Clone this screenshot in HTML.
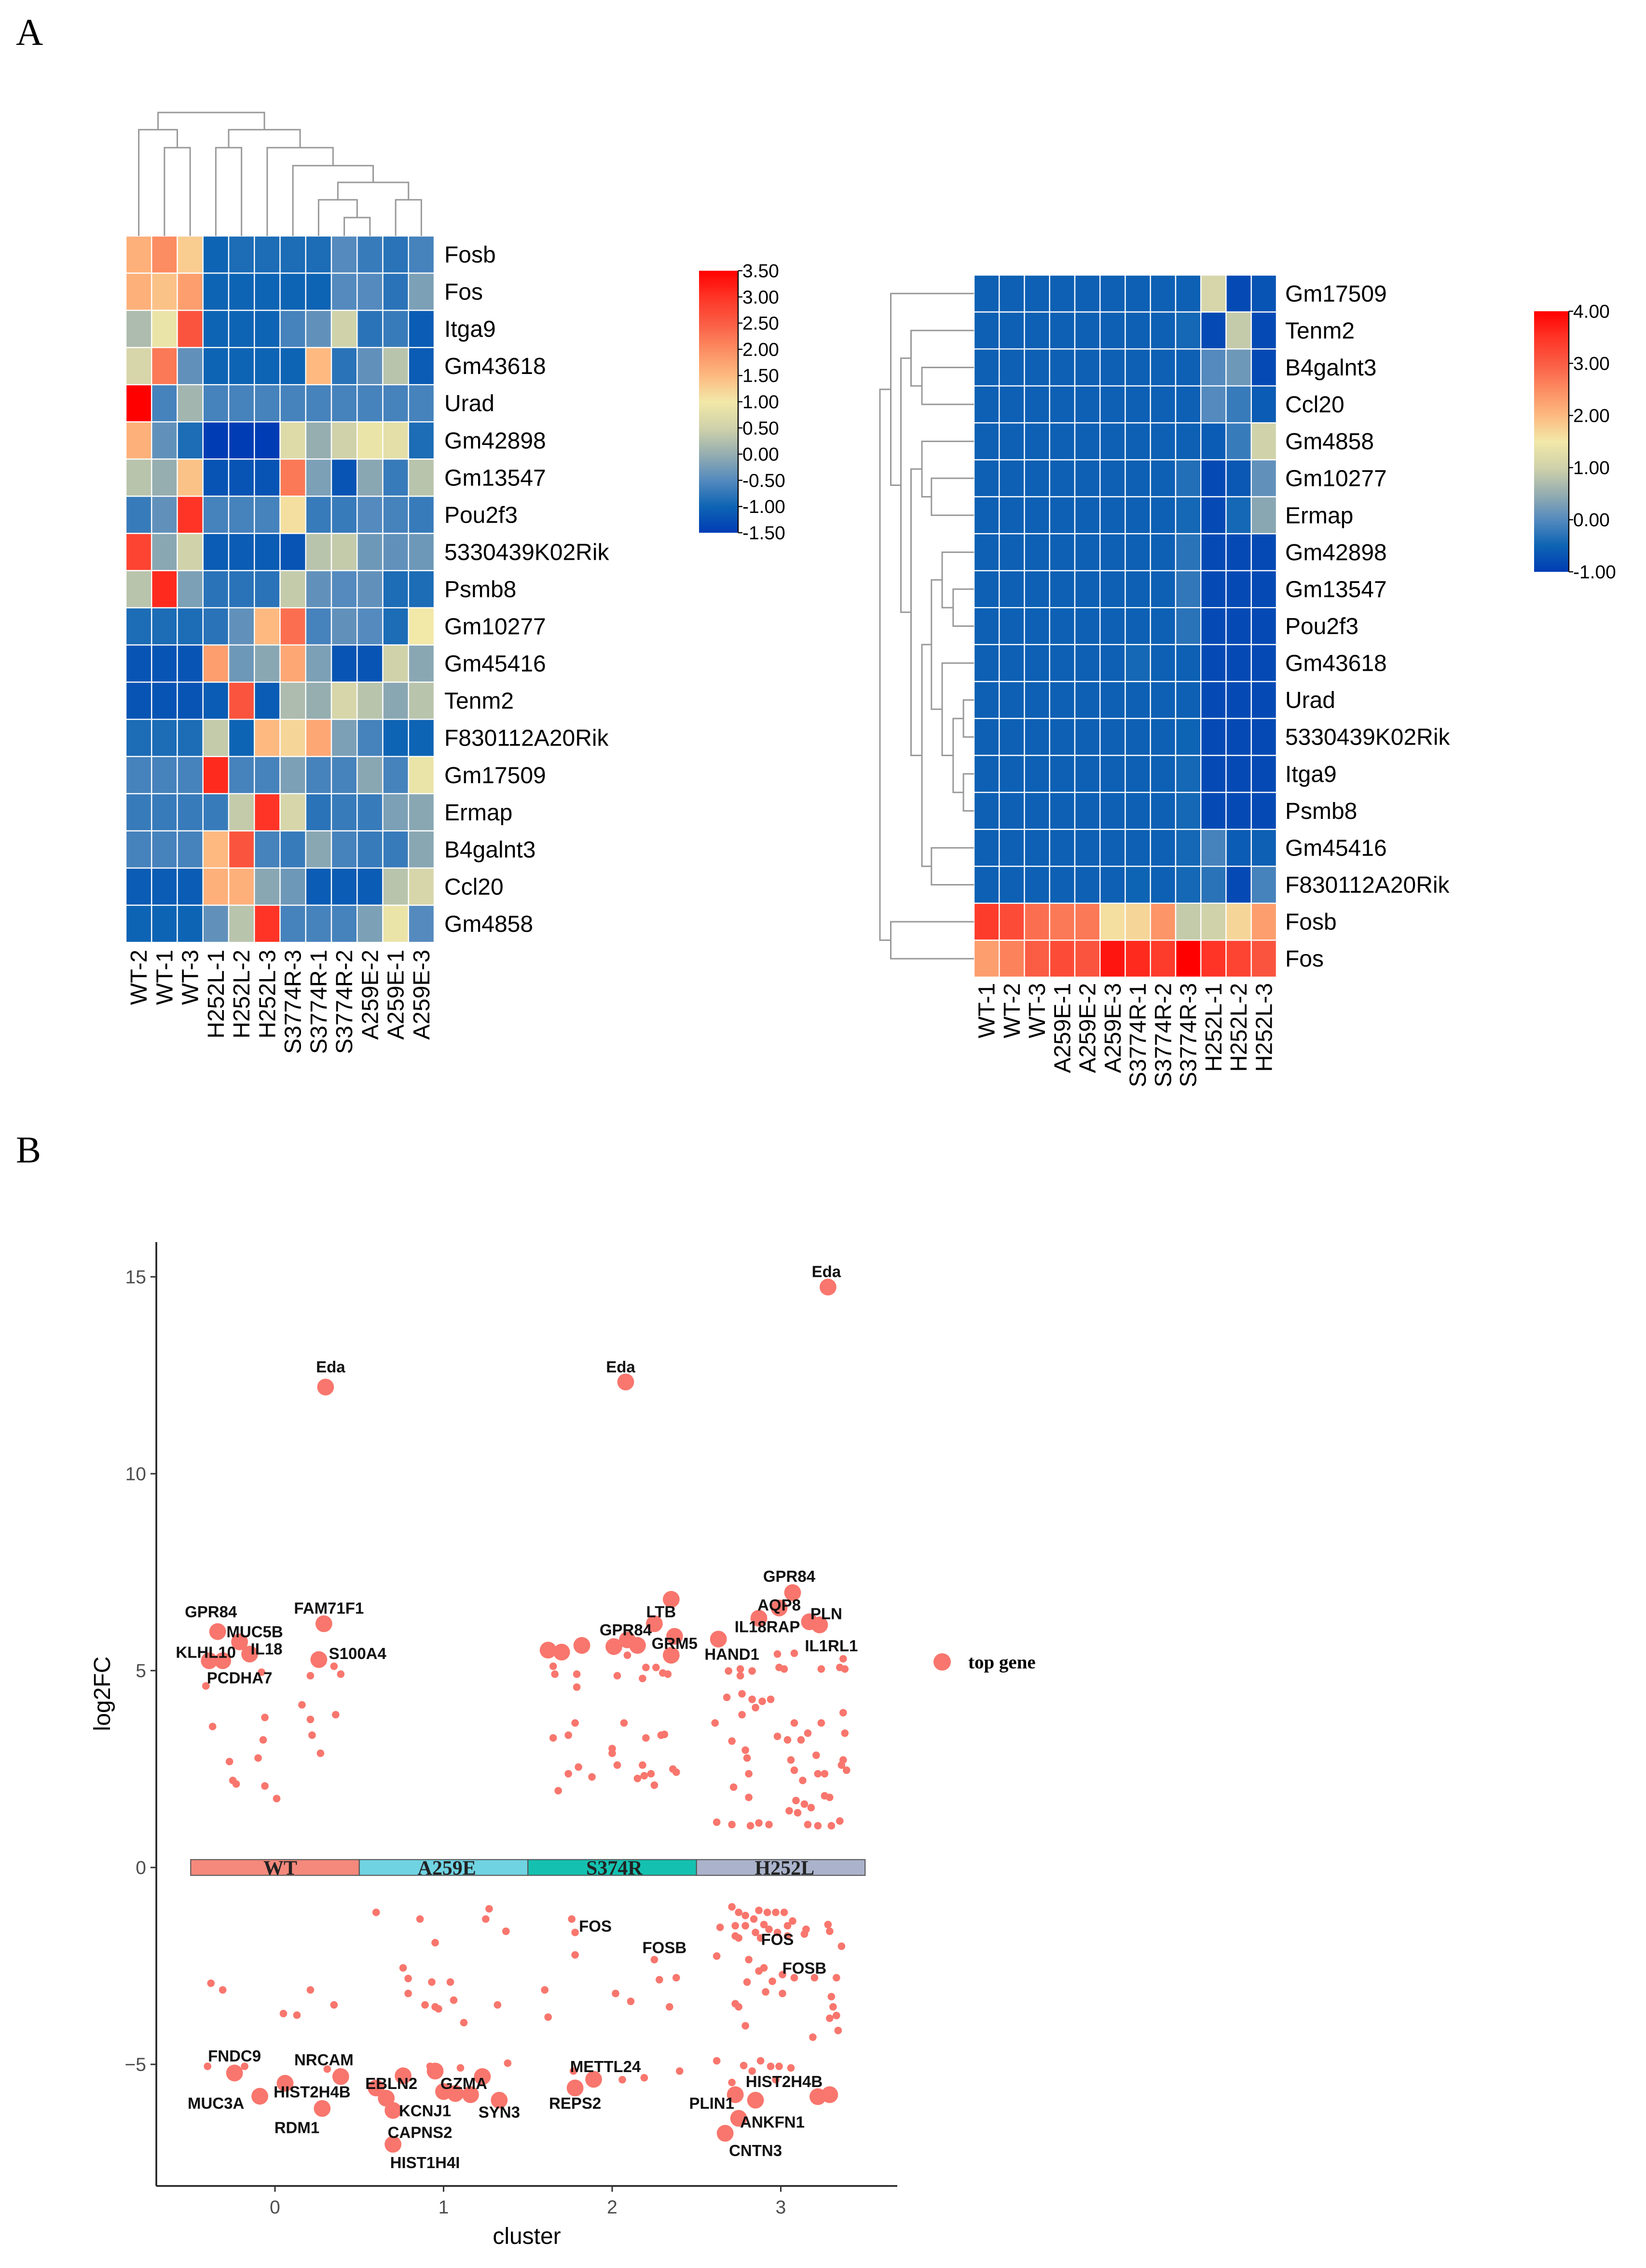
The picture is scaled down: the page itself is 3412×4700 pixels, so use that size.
<!DOCTYPE html>
<html><head><meta charset="utf-8">
<style>
html,body{margin:0;padding:0;background:#fff;}
svg{display:block;}
text{font-family:"Liberation Sans",sans-serif;}
</style></head>
<body>
<svg id="root" xmlns="http://www.w3.org/2000/svg" width="3412" height="4700" viewBox="0 0 1137.33 1566.67">
<rect width="1137.33" height="1566.67" fill="#fff"/>
<text x="11" y="31" font-size="26" style="font-family:'Liberation Serif',serif">A</text>
<text x="11" y="803" font-size="26" style="font-family:'Liberation Serif',serif">B</text>
<g id="hm1"></g>
<g id="hm2"></g>
<g id="sc"></g>
</svg>
<script>
// ---------- Left heatmap data ----------
const lGenes=["Fosb","Fos","Itga9","Gm43618","Urad","Gm42898","Gm13547","Pou2f3","5330439K02Rik","Psmb8","Gm10277","Gm45416","Tenm2","F830112A20Rik","Gm17509","Ermap","B4galnt3","Ccl20","Gm4858"];
const lSamples=["WT-2","WT-1","WT-3","H252L-1","H252L-2","H252L-3","S3774R-3","S3774R-1","S3774R-2","A259E-2","A259E-1","A259E-3"];
const lValues=[
[1.6,2.0,1.3,-1.0,-0.9,-0.9,-0.9,-0.9,-0.5,-0.7,-0.8,-0.6],
[1.6,1.4,1.8,-1.0,-1.0,-1.0,-1.0,-1.0,-0.5,-0.5,-0.8,-0.2],
[0.2,0.9,2.6,-1.0,-1.0,-1.0,-0.6,-0.4,0.5,-0.8,-0.7,-1.1],
[0.6,2.2,-0.4,-1.0,-1.0,-1.0,-1.0,1.5,-0.8,-0.4,0.3,-1.1],
[3.5,-0.6,0.1,-0.6,-0.6,-0.6,-0.6,-0.6,-0.6,-0.6,-0.6,-0.6],
[1.6,-0.4,-0.9,-1.5,-1.5,-1.5,0.7,0.0,0.5,0.9,0.8,-0.9],
[0.3,0.0,1.4,-1.2,-1.2,-1.2,2.2,-0.2,-1.2,-0.1,-0.7,0.3],
[-0.7,-0.4,3.0,-0.6,-0.6,-0.6,1.1,-0.7,-0.7,-0.5,-0.6,-0.7],
[2.8,-0.1,0.5,-1.1,-1.1,-1.1,-1.2,0.3,0.4,-0.3,-0.4,-0.3],
[0.3,3.1,-0.2,-0.8,-0.8,-0.8,0.4,-0.4,-0.5,-0.4,-0.9,-0.9],
[-0.9,-0.9,-0.9,-0.8,-0.4,1.5,2.3,-0.6,-0.4,-0.5,-0.9,1.0],
[-1.2,-1.2,-1.2,1.8,-0.3,-0.1,1.7,-0.2,-1.2,-1.2,0.5,-0.1],
[-1.2,-1.2,-1.2,-1.1,2.6,-1.1,0.2,0.0,0.6,0.3,-0.1,0.3],
[-0.9,-0.9,-0.9,0.4,-1.0,1.5,1.2,1.7,-0.2,-0.6,-1.0,-1.0],
[-0.6,-0.6,-0.6,3.1,-0.6,-0.6,-0.2,-0.6,-0.6,-0.1,-0.6,0.9],
[-0.7,-0.7,-0.7,-0.7,0.4,3.0,0.6,-0.8,-0.7,-0.7,-0.2,-0.1],
[-0.6,-0.6,-0.6,1.5,2.6,-0.6,-0.7,-0.1,-0.6,-0.7,-0.7,-0.1],
[-1.1,-1.1,-1.1,1.6,1.6,-0.1,-0.3,-1.1,-1.1,-1.1,0.3,0.6],
[-1.0,-1.0,-1.0,-0.4,0.3,3.0,-0.6,-0.6,-0.6,-0.2,0.9,-0.5]];
const lTicks=["3.50","3.00","2.50","2.00","1.50","1.00","0.50","0.00","-0.50","-1.00","-1.50"];

// ---------- Right heatmap data ----------
const rGenes=["Gm17509","Tenm2","B4galnt3","Ccl20","Gm4858","Gm10277","Ermap","Gm42898","Gm13547","Pou2f3","Gm43618","Urad","5330439K02Rik","Itga9","Psmb8","Gm45416","F830112A20Rik","Fosb","Fos"];
const rSamples=["WT-1","WT-2","WT-3","A259E-1","A259E-2","A259E-3","S3774R-1","S3774R-2","S3774R-3","H252L-1","H252L-2","H252L-3"];
const B=-0.55, D=-0.82;
const rValues=[
[B,B,B,B,B,B,B,B,B,1.1,D,-0.7],
[B,B,B,B,B,B,B,B,-0.45,D,0.9,D],
[B,B,B,B,B,B,B,B,B,0.0,0.2,D],
[B,B,B,B,B,B,B,B,B,0.0,-0.2,-0.6],
[B,B,B,B,B,B,B,B,B,-0.6,-0.2,1.0],
[B,B,B,B,B,B,B,B,-0.35,D,-0.65,0.1],
[B,B,B,B,B,B,B,B,-0.45,D,-0.45,0.4],
[B,B,B,B,B,B,B,B,-0.3,D,D,D],
[B,B,B,B,B,B,B,B,-0.25,D,D,D],
[B,B,B,B,B,B,B,B,-0.3,D,D,D],
[B,B,B,B,B,B,-0.45,B,B,D,D,D],
[B,B,B,B,B,B,B,B,B,D,D,D],
[B,B,B,B,B,B,B,B,-0.5,D,D,D],
[B,B,B,B,B,B,B,B,-0.45,D,D,D],
[B,B,B,B,B,B,B,B,-0.45,D,D,D],
[B,B,B,B,B,B,B,B,-0.45,-0.1,-0.6,-0.55],
[B,B,B,B,B,B,-0.5,B,-0.45,-0.3,D,-0.1],
[3.4,3.2,2.8,2.7,2.7,1.6,1.7,2.4,0.9,1.0,1.7,2.3],
[2.3,2.6,3.0,3.2,3.1,3.8,3.6,3.4,4.0,3.5,3.3,3.1]];
const rTicks=["4.00","3.00","2.00","1.00","0.00","-1.00"];

// ---------- Scatter data ----------
const yTicks=[15,10,5,0,-5];
const xTicks=[0,1,2,3];
const clusters=["WT","A259E","S374R","H252L"];
const bigPts=[[0.30,12.2],[2.08,12.33],[3.28,14.74],
[-0.34,5.99],[-0.21,5.73],[-0.15,5.42],[-0.39,5.25],[-0.31,5.25],[0.29,6.19],[0.26,5.28],
[1.62,5.52],[1.70,5.47],[1.82,5.64],[2.01,5.61],[2.09,5.78],[2.15,5.64],[2.25,6.19],[2.35,6.81],[2.37,5.87],[2.35,5.39],
[2.63,5.80],[3.07,6.98],[2.99,6.59],[2.87,6.33],[3.17,6.24],[3.23,6.16],
[-0.24,-5.22],[-0.09,-5.81],[0.06,-5.48],[0.28,-6.12],[0.39,-5.31],
[0.60,-5.60],[0.66,-5.86],[0.70,-6.17],[0.70,-7.03],[0.76,-5.29],[0.95,-5.17],[1.0,-5.69],[1.07,-5.74],[1.16,-5.77],[1.23,-5.31],[1.33,-5.91],
[1.78,-5.60],[1.89,-5.38],
[2.73,-5.77],[2.85,-5.91],[2.75,-6.37],[2.67,-6.75],[3.29,-5.77],[3.22,-5.82]];
const smallPts=[
[-0.41,4.61],[-0.37,3.58],[-0.27,2.69],[-0.25,2.21],[-0.23,2.12],[-0.10,2.78],[-0.07,3.24],[-0.06,3.81],[-0.06,2.07],[0.01,1.75],[-0.08,4.96],[0.16,4.13],[0.21,3.76],[0.21,4.87],[0.22,3.36],[0.27,2.90],[0.36,3.88],[0.39,4.91],[0.35,5.11],
[1.65,5.11],[1.66,4.91],[1.79,4.91],[1.79,4.58],[1.78,3.67],[1.65,3.29],[1.74,3.36],[1.74,2.38],[1.68,1.95],[1.80,2.55],[1.88,2.30],[2.03,4.87],[2.07,3.67],[2.0,3.02],[2.0,2.90],[2.03,2.60],[2.09,5.39],[2.18,4.80],[2.20,5.08],[2.26,5.08],[2.30,4.94],[2.33,4.91],[2.20,3.29],[2.29,3.36],[2.31,3.38],[2.15,2.26],[2.19,2.33],[2.23,2.38],[2.18,2.60],[2.25,2.09],[2.36,2.50],[2.38,2.42],
[2.61,3.67],[2.62,1.15],[2.68,4.32],[2.71,3.21],[2.72,2.04],[2.71,1.09],[2.76,5.04],[2.77,4.41],[2.77,3.88],[2.79,2.98],[2.80,2.78],[2.81,2.38],[2.81,1.78],[2.82,1.06],[2.83,4.27],[2.85,4.06],[2.87,1.13],[2.89,4.22],[2.93,1.09],[2.94,4.27],[2.98,5.42],[3.02,5.04],[3.04,3.24],[3.06,2.73],[3.05,1.44],[3.08,5.44],[3.08,2.47],[3.09,1.70],[3.10,1.39],[3.12,3.24],[3.13,2.21],[3.14,1.61],[3.16,3.41],[3.16,1.09],[3.18,1.52],[3.21,2.85],[3.22,2.38],[3.22,1.06],[3.24,3.67],[3.24,5.04],[3.26,1.82],[3.26,2.38],[3.29,1.78],[3.30,1.06],[3.35,1.18],[3.36,2.60],[3.37,2.73],[3.37,3.93],[3.38,3.41],[3.39,2.47],[3.38,5.04],[3.37,5.30],[3.35,5.08],[2.99,5.08],[2.83,4.99],[2.69,4.99],[2.76,4.87],[2.98,3.33],[3.08,3.67],
[-0.38,-2.94],[-0.31,-3.11],[0.05,-3.71],[0.13,-3.75],[0.21,-3.11],[0.35,-3.49],[-0.40,-5.05],[-0.18,-5.05],[0.31,-5.12],
[0.60,-1.14],[0.86,-1.31],[1.27,-1.05],[1.25,-1.31],[1.37,-1.62],[0.95,-1.91],[0.76,-2.55],[0.79,-2.82],[0.79,-3.20],[0.93,-2.91],[1.04,-2.91],[0.89,-3.49],[0.95,-3.54],[0.97,-3.59],[1.06,-3.37],[1.12,-3.94],[1.32,-3.49],[1.38,-4.97],[0.92,-5.05],[1.10,-5.09],
[1.76,-1.31],[1.78,-1.65],[1.78,-2.22],[1.60,-3.11],[1.62,-3.80],[2.02,-3.20],[2.11,-3.40],[2.25,-2.34],[2.28,-2.85],[2.38,-2.80],[2.34,-3.54],[2.06,-5.39],[2.19,-5.34],[2.40,-5.17],[1.77,-5.17],
[2.71,-1.0],[2.75,-1.14],[2.79,-1.22],[2.87,-1.09],[2.92,-1.14],[2.97,-1.14],[3.02,-1.14],[2.64,-1.52],[2.73,-1.48],[2.79,-1.48],[2.84,-1.31],[2.90,-1.45],[2.93,-1.57],[3.04,-1.48],[3.07,-1.36],[2.73,-1.74],[2.75,-1.79],[2.85,-1.65],[2.88,-1.79],[2.98,-1.65],[3.04,-1.74],[3.14,-1.69],[3.15,-1.57],[3.28,-1.45],[3.29,-1.62],[3.36,-2.0],[2.62,-2.25],[2.81,-2.34],[2.87,-2.63],[2.90,-2.55],[2.95,-2.89],[3.01,-2.72],[3.08,-2.80],[3.20,-2.80],[3.33,-2.80],[2.80,-2.91],[2.91,-3.16],[3.01,-3.20],[2.73,-3.46],[2.75,-3.54],[2.79,-4.02],[3.19,-4.31],[3.30,-3.28],[3.31,-3.54],[3.33,-3.76],[3.29,-3.83],[3.34,-4.14],[2.62,-4.91],[2.78,-5.03],[2.88,-4.91],[2.94,-5.05],[2.99,-5.05],[3.06,-5.09],[2.83,-5.17],[2.71,-5.46],[2.97,-5.39]];
const geneLabels=["Eda","Eda","Eda","GPR84","MUC5B","KLHL10","IL18","PCDHA7","FAM71F1","S100A4","LTB","GPR84","GRM5","HAND1","GPR84","AQP8","IL18RAP","PLN","IL1RL1","FOS","FOSB","FOS","FOSB","FNDC9","NRCAM","MUC3A","HIST2H4B","RDM1","EBLN2","GZMA","KCNJ1","SYN3","CAPNS2","HIST1H4I","METTL24","REPS2","HIST2H4B","PLIN1","ANKFN1","CNTN3"];
const labelX=[0.33,2.05,3.27,-0.38,-0.12,-0.41,-0.05,-0.21,0.32,0.49,2.29,2.08,2.37,2.71,3.05,2.99,2.92,3.27,3.30,1.90,2.31,2.98,3.14,-0.24,0.29,-0.35,0.22,0.13,0.69,1.12,0.89,1.33,0.86,0.89,1.96,1.78,3.02,2.59,2.95,2.85];
const labelY=[12.72,12.72,15.14,6.50,5.99,5.47,5.56,4.82,6.59,5.44,6.50,6.04,5.70,5.42,7.40,6.67,6.12,6.45,5.64,-1.48,-2.03,-1.82,-2.55,-4.78,-4.88,-5.98,-5.69,-6.60,-5.48,-5.48,-6.17,-6.21,-6.72,-7.49,-5.05,-5.98,-5.43,-5.98,-6.46,-7.18];

const NS="http://www.w3.org/2000/svg";
function mk(parent,tag,attrs,txt){const e=document.createElementNS(NS,tag);for(const k in attrs)e.setAttribute(k,attrs[k]);if(txt!==undefined)e.textContent=txt;parent.appendChild(e);return e;}

const stops=[[0,[0,60,180]],[0.1,[14,100,180]],[0.2,[84,138,190]],[0.3,[150,174,176]],[0.4,[208,210,170]],[0.5,[242,232,168]],[0.6,[253,185,128]],[0.7,[252,140,98]],[0.8,[250,92,68]],[0.9,[255,52,38]],[1,[255,0,0]]];
function cmap(t){t=Math.max(0,Math.min(1,t));for(let i=1;i<stops.length;i++){if(t<=stops[i][0]){const a=stops[i-1],b=stops[i];const f=(t-a[0])/(b[0]-a[0]);const c=a[1].map((v,j)=>Math.round(v+(b[1][j]-v)*f));return`rgb(${c[0]},${c[1]},${c[2]})`;}}return"rgb(255,0,0)";}

// ---------- left heatmap ----------
(function(){
const g=document.getElementById('hm1');
const x0=87,y0=163,cw=213/12,rh=488/19;
const lmin=-1.5,lmax=3.5;
lValues.forEach((row,r)=>row.forEach((v,c)=>{
 const e=mk(g,'rect',{x:x0+c*cw,y:y0+r*rh,width:cw,height:rh,fill:cmap((v-lmin)/(lmax-lmin)),stroke:'#fff','stroke-width':0.8});
 
 
}));
lGenes.forEach((gn,r)=>{const t=mk(g,'text',{x:x0+12*cw+7,y:y0+(r+0.5)*rh+5.5,'font-size':16},gn);
 });
lSamples.forEach((s,c)=>{const cx=x0+(c+0.5)*cw+5.5;const t=mk(g,'text',{x:0,y:0,'font-size':16,'text-anchor':'end',transform:`translate(${cx},${y0+488+5}) rotate(-90)`},s);
 });
const cx=i=>x0+(i+0.5)*cw;
const st={stroke:'#999',fill:'none','stroke-width':1};
function U(xa,ya,xb,yb,top){mk(g,'path',Object.assign({d:`M${xa},${ya}V${top}H${xb}V${yb}`},st));}
const base=y0;
U(cx(1),base,cx(2),base,102);
U(cx(0),base,(cx(1)+cx(2))/2,102,89.6);
U(cx(3),base,cx(4),base,102);
U(cx(8),base,cx(9),base,150.3);
U(cx(7),base,(cx(8)+cx(9))/2,150.3,138);
U(cx(10),base,cx(11),base,138);
const n1=(cx(7)+(cx(8)+cx(9))/2)/2;
U(n1,138,(cx(10)+cx(11))/2,138,126);
const n2=(n1+(cx(10)+cx(11))/2)/2;
U(cx(6),base,n2,126,114.4);
const n3=(cx(6)+n2)/2;
U(cx(5),base,n3,114.4,102);
const n4=(cx(5)+n3)/2;
U((cx(3)+cx(4))/2,102,n4,102,89.6);
const n5=((cx(3)+cx(4))/2+n4)/2;
U((cx(0)+(cx(1)+cx(2))/2)/2,89.6,n5,89.6,77.7);
const cbx=483,cby=187,cbh=181;
const defs=mk(g,'defs',{});const lg=mk(defs,'linearGradient',{id:'lg1',x1:0,y1:1,x2:0,y2:0});
stops.forEach(s=>mk(lg,'stop',{offset:s[0],'stop-color':cmap(s[0])}));
mk(g,'rect',{x:cbx,y:cby,width:27,height:cbh,fill:'url(#lg1)',});
mk(g,'line',{x1:cbx+27,y1:cby,x2:cbx+27,y2:cby+cbh,stroke:'#000','stroke-width':0.8});
lTicks.forEach((t,i)=>{const y=cby+i*cbh/(lTicks.length-1);mk(g,'line',{x1:cbx+27,y1:y,x2:cbx+30,y2:y,stroke:'#000','stroke-width':0.8});
 const e=mk(g,'text',{x:cbx+30,y:y+4.5,'font-size':13},t);});
})();

// ---------- right heatmap ----------
(function(){
const g=document.getElementById('hm2');
const x0=673,y0=190,cw=209/12,rh=485/19;
const rmin=-1,rmax=4;
rValues.forEach((row,r)=>row.forEach((v,c)=>{
 const e=mk(g,'rect',{x:x0+c*cw,y:y0+r*rh,width:cw,height:rh,fill:cmap((v-rmin)/(rmax-rmin)),stroke:'#fff','stroke-width':0.8});
 
 
}));
rGenes.forEach((gn,r)=>{const t=mk(g,'text',{x:x0+12*cw+6,y:y0+(r+0.5)*rh+5.5,'font-size':16},gn);
 });
rSamples.forEach((s,c)=>{const cx=x0+(c+0.5)*cw+5.5;const t=mk(g,'text',{x:0,y:0,'font-size':16,'text-anchor':'end',transform:`translate(${cx},${y0+485+4}) rotate(-90)`},s);
 });
const ry=i=>y0+(i+0.5)*rh;
const st={stroke:'#999',fill:'none','stroke-width':1};
function U(ya,xa,yb,xb,left){mk(g,'path',Object.assign({d:`M${xa},${ya}H${left}V${yb}H${xb}`},st));}
const L=x0;
U(ry(2),L,ry(3),L,637);const a1=(ry(2)+ry(3))/2;
U(ry(1),L,a1,637,629.5);const A=(ry(1)+a1)/2;
U(ry(5),L,ry(6),L,643.6);const b1=(ry(5)+ry(6))/2;
U(ry(4),L,b1,643.6,637);const Bn=(ry(4)+b1)/2;
U(ry(8),L,ry(9),L,658.6);const c1=(ry(8)+ry(9))/2;
U(ry(7),L,c1,658.6,651);const C=(ry(7)+c1)/2;
U(ry(11),L,ry(12),L,665.7);const d1=(ry(11)+ry(12))/2;
U(ry(13),L,ry(14),L,665.7);const d2=(ry(13)+ry(14))/2;
U(d1,665.7,d2,665.7,658.6);const d3=(d1+d2)/2;
U(ry(10),L,d3,658.6,651);const d4=(ry(10)+d3)/2;
U(C,651,d4,651,643.6);const e1=(C+d4)/2;
U(ry(15),L,ry(16),L,643.6);const e2=(ry(15)+ry(16))/2;
U(e1,643.6,e2,643.6,637);const e3=(e1+e2)/2;
U(Bn,637,e3,637,629.5);const f1=(Bn+e3)/2;
U(A,629.5,f1,629.5,622.5);const f2=(A+f1)/2;
U(ry(0),L,f2,622.5,615.5);const top1=(ry(0)+f2)/2;
U(ry(17),L,ry(18),L,615.5);const top2=(ry(17)+ry(18))/2;
U(top1,615.5,top2,615.5,608);
const cbx=1060,cby=215,cbh=180;
const defs=mk(g,'defs',{});const lg=mk(defs,'linearGradient',{id:'lg2',x1:0,y1:1,x2:0,y2:0});
stops.forEach(s=>mk(lg,'stop',{offset:s[0],'stop-color':cmap(s[0])}));
mk(g,'rect',{x:cbx,y:cby,width:24,height:cbh,fill:'url(#lg2)',});
mk(g,'line',{x1:cbx+24,y1:cby,x2:cbx+24,y2:cby+cbh,stroke:'#000','stroke-width':0.8});
rTicks.forEach((t,i)=>{const y=cby+i*cbh/(rTicks.length-1);mk(g,'line',{x1:cbx+24,y1:y,x2:cbx+27,y2:y,stroke:'#000','stroke-width':0.8});
 const e=mk(g,'text',{x:cbx+27,y:y+4.5,'font-size':13},t);});
})();

// ---------- scatter ----------
(function(){
const g=document.getElementById('sc');
const X=v=>190+v*116.5, Y=v=>1290-v*27.2;
const axL=108,axB=1510,axR=620,axT=858;
mk(g,'line',{x1:axL,y1:axT,x2:axL,y2:axB,stroke:'#222','stroke-width':1.2,});
mk(g,'line',{x1:axL,y1:axB,x2:axR,y2:axB,stroke:'#222','stroke-width':1.2,});
yTicks.forEach(v=>{mk(g,'line',{x1:axL-4,y1:Y(v),x2:axL,y2:Y(v),stroke:'#333','stroke-width':1});
 const t=mk(g,'text',{x:axL-7,y:Y(v)+4.5,'font-size':13,'text-anchor':'end',fill:'#4d4d4d'},v<0?'\u2212'+Math.abs(v):String(v));
 });
xTicks.forEach(v=>{mk(g,'line',{x1:X(v),y1:axB,x2:X(v),y2:axB+4,stroke:'#333','stroke-width':1});
 const t=mk(g,'text',{x:X(v),y:axB+19,'font-size':13,'text-anchor':'middle',fill:'#4d4d4d'},String(v));
 });
mk(g,'text',{x:364,y:1550,'font-size':16,'text-anchor':'middle',},'cluster');
mk(g,'text',{x:0,y:0,'font-size':16,'text-anchor':'middle',transform:'translate(76,1170) rotate(-90)',},'log2FC');
const bandCols=['#f4897c','#70d3e2','#14c1b0','#aab3cb'];
clusters.forEach((c,i)=>{
 const r=mk(g,'rect',{x:X(i-0.5),y:Y(0.2),width:X(i+0.5)-X(i-0.5),height:Y(-0.2)-Y(0.2),fill:bandCols[i],stroke:'#555','stroke-width':0.7});
 
 const t=mk(g,'text',{x:X(i)-18+(i===0?10:0),y:Y(0)+5,'font-size':14,'font-weight':'bold',fill:'#222',style:"font-family:'Liberation Serif',serif"},c);
 
});
smallPts.forEach(p=>{const e=mk(g,'circle',{cx:X(p[0]),cy:Y(p[1]),r:2.6,fill:'#f8766d'});
 });
bigPts.forEach(p=>{const e=mk(g,'circle',{cx:X(p[0]),cy:Y(p[1]),r:5.8,fill:'#f8766d'});
 });
geneLabels.forEach((s,i)=>{const t=mk(g,'text',{x:X(labelX[i]),y:Y(labelY[i])+4,'font-size':11,'font-weight':'bold','text-anchor':'middle',fill:'#111'},s);
 });
mk(g,'circle',{cx:651,cy:1148,r:6,fill:'#f8766d',});
mk(g,'text',{x:669,y:1152.5,'font-size':13,'font-weight':'bold',style:"font-family:'Liberation Serif',serif",},'top gene');
})();
</script>
</body></html>
